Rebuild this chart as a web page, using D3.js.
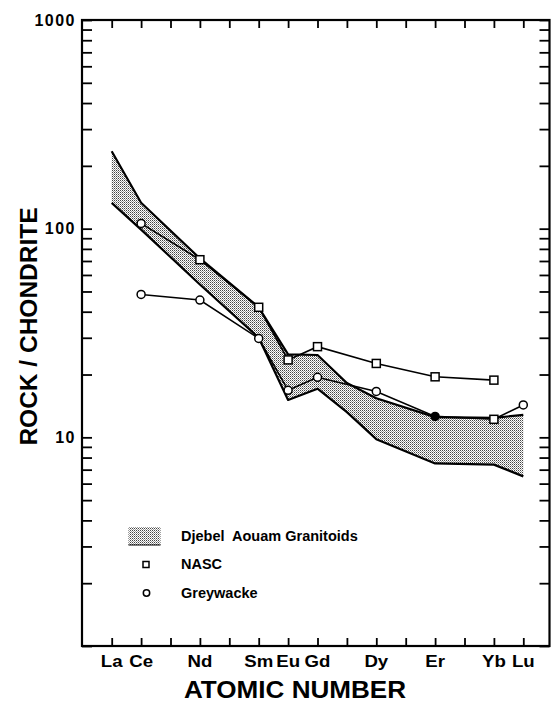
<!DOCTYPE html>
<html>
<head>
<meta charset="utf-8">
<script src="https://cdn.jsdelivr.net/npm/d3@7"></script>
<style>
  html, body { margin: 0; padding: 0; background: #fff; }
  svg { display: block; font-family: 'Liberation Sans', Arial, sans-serif; font-weight: bold; }
</style>
</head>
<body>
<div id="chart"></div>
<script>
// REE positions along the x axis (every element gets a tick)
const elements = ['La', 'Ce', 'Pr', 'Nd', 'Pm', 'Sm', 'Eu', 'Gd', 'Tb', 'Dy', 'Ho', 'Er', 'Tm', 'Yb', 'Lu'];
const labelledElements = ['La', 'Ce', 'Nd', 'Sm', 'Eu', 'Gd', 'Dy', 'Er', 'Yb', 'Lu'];

// Djebel Aouam granitoid envelope (upper / lower chondrite-normalised values)
const bandElements = ['La', 'Ce', 'Nd', 'Sm', 'Eu', 'Gd', 'Tb', 'Dy', 'Er', 'Yb', 'Lu'];
const bandUpper = [235, 133, 72, 42, 25, 24.8, 18.2, 15.4, 12.5, 12.4, 12.8];
const bandLower = [133, 99, 54, 30, 15.1, 17.1, 13.2, 9.8, 7.5, 7.4, 6.5];

// NASC
const nascElements = ['Ce', 'Nd', 'Sm', 'Eu', 'Gd', 'Dy', 'Er', 'Yb'];
const nascValues = [106, 71, 42, 23.5, 27.2, 22.6, 19.5, 18.8];
const nascMarks = ['circle', 'square', 'square', 'square', 'square', 'square', 'square', 'square'];

// Greywacke
const greyElements = ['Ce', 'Nd', 'Sm', 'Eu', 'Gd', 'Dy', 'Er', 'Yb', 'Lu'];
const greyValues = [48.4, 45.5, 29.8, 16.8, 19.4, 16.6, 12.6, 12.2, 14.3];
const greyMarks = ['circle', 'circle', 'circle', 'circle', 'circle', 'circle', 'dot', 'square', 'circle'];

const yLabelValues = [10, 100, 1000];
const legendLabels = ['Djebel  Aouam Granitoids', 'NASC', 'Greywacke'];
const legendKinds = ['band', 'square', 'circle'];

const width = 551;
const height = 702;
const frame = { left: 82, right: 549.5, top: 20, bottom: 646 };

const svg = d3.select('#chart').append('svg')
  .attr('width', width).attr('height', height)
  .attr('viewBox', `0 0 ${width} ${height}`);

// fine dot screen used for the granitoid envelope
const defs = svg.append('defs');
const pat = defs.append('pattern').attr('id', 'stipple')
  .attr('patternUnits', 'userSpaceOnUse').attr('width', 2).attr('height', 2);
pat.append('rect').attr('width', 2).attr('height', 2).attr('fill', '#fff');
pat.append('rect').attr('width', 1).attr('height', 1).attr('fill', '#444');
pat.append('rect').attr('x', 1).attr('y', 1).attr('width', 1).attr('height', 1).attr('fill', '#9a9a9a');

const x = d3.scalePoint().domain(elements).range([111.7, 523.3]);
const y = d3.scaleLog().domain([1, 1000]).range([frame.bottom, frame.top]);

// ticks on all four sides, pointing inward
const tickStyle = (g) => {
  g.select('.domain').remove();
  g.selectAll('.tick line').attr('stroke', '#000').attr('stroke-width', 1.8);
  g.selectAll('.tick text').remove();
};
svg.append('g').attr('transform', `translate(${frame.left},0)`)
  .call(d3.axisRight(y).tickValues(y.ticks()).tickSize(10)).call(tickStyle);
svg.append('g').attr('transform', `translate(${frame.right},0)`)
  .call(d3.axisLeft(y).tickValues(y.ticks()).tickSize(10)).call(tickStyle);
svg.append('g').attr('transform', `translate(0,${frame.bottom})`)
  .call(d3.axisTop(x).tickSize(8)).call(tickStyle);
svg.append('g').attr('transform', `translate(0,${frame.top})`)
  .call(d3.axisBottom(x).tickSize(8)).call(tickStyle);

svg.append('rect')
  .attr('x', frame.left).attr('y', frame.top)
  .attr('width', frame.right - frame.left).attr('height', frame.bottom - frame.top)
  .attr('fill', 'none').attr('stroke', '#000').attr('stroke-width', 2.2);

// y tick labels
svg.selectAll('.ylab').data(yLabelValues).join('text')
  .attr('class', 'ylab')
  .attr('x', 76).attr('y', (d) => y(d)).attr('dy', '0.36em')
  .attr('text-anchor', 'end').attr('font-size', 16).attr('letter-spacing', 1.5)
  .text((d) => d);

// element labels
svg.selectAll('.xlab').data(labelledElements).join('text')
  .attr('class', 'xlab')
  .attr('transform', (d) => `translate(${x(d)},667) scale(1.13,1)`)
  .attr('text-anchor', 'middle').attr('font-size', 16.5)
  .text((d) => d);

// axis titles
svg.append('text')
  .attr('transform', 'translate(295,698) scale(1.11,1)')
  .attr('text-anchor', 'middle').attr('font-size', 23.5)
  .text('ATOMIC NUMBER');
svg.append('text')
  .attr('transform', 'translate(37,326.5) rotate(-90)')
  .attr('text-anchor', 'middle').attr('font-size', 24.5)
  .text('ROCK / CHONDRITE');

// granitoid envelope
const bandRows = bandElements.map((el, i) => ({ el, hi: bandUpper[i], lo: bandLower[i] }));
svg.append('path').datum(bandRows)
  .attr('d', d3.area().x((d) => x(d.el)).y0((d) => y(d.lo)).y1((d) => y(d.hi)))
  .attr('fill', 'url(#stipple)');
const edge = (key) => d3.line().x((d) => x(d.el)).y((d) => y(d[key]));
['hi', 'lo'].forEach((key) => {
  svg.append('path').datum(bandRows)
    .attr('d', edge(key))
    .attr('fill', 'none').attr('stroke', '#000').attr('stroke-width', 2.2)
    .attr('stroke-linejoin', 'round');
});

// reference series
function drawSeries(els, vals, marks) {
  const rows = els.map((el, i) => ({ el, v: vals[i], mark: marks[i] }));
  svg.append('path').datum(rows)
    .attr('d', d3.line().x((d) => x(d.el)).y((d) => y(d.v)))
    .attr('fill', 'none').attr('stroke', '#000').attr('stroke-width', 1.6);
  const g = svg.append('g');
  rows.forEach((d) => {
    const cx = x(d.el), cy = y(d.v);
    if (d.mark === 'square') {
      g.append('rect').attr('x', cx - 4).attr('y', cy - 4).attr('width', 8).attr('height', 8)
        .attr('fill', '#fff').attr('stroke', '#000').attr('stroke-width', 1.5);
    } else {
      g.append('circle').attr('cx', cx).attr('cy', cy).attr('r', 4)
        .attr('fill', d.mark === 'dot' ? '#000' : '#fff').attr('stroke', '#000').attr('stroke-width', 1.5);
    }
  });
}
drawSeries(greyElements, greyValues, greyMarks);
drawSeries(nascElements, nascValues, nascMarks);

// legend
const legend = svg.append('g');
legendLabels.forEach((label, i) => {
  const rowY = 536 + i * 28.5;
  const kind = legendKinds[i];
  if (kind === 'band') {
    legend.append('rect').attr('x', 128.5).attr('y', rowY - 9).attr('width', 32).attr('height', 18)
      .attr('fill', 'url(#stipple)');
    legend.append('line').attr('x1', 128.5).attr('x2', 160.5).attr('y1', rowY + 9).attr('y2', rowY + 9)
      .attr('stroke', '#000').attr('stroke-width', 1);
  } else if (kind === 'square') {
    legend.append('rect').attr('x', 143).attr('y', rowY - 3).attr('width', 6).attr('height', 6)
      .attr('fill', '#fff').attr('stroke', '#000').attr('stroke-width', 1.5);
  } else {
    legend.append('circle').attr('cx', 146.5).attr('cy', rowY).attr('r', 3.2)
      .attr('fill', '#fff').attr('stroke', '#000').attr('stroke-width', 1.5);
  }
  legend.append('text')
    .attr('x', 181).attr('y', rowY + 4.8)
    .attr('font-size', 14.5).style('white-space', 'pre')
    .text(label);
});
</script>
</body>
</html>
